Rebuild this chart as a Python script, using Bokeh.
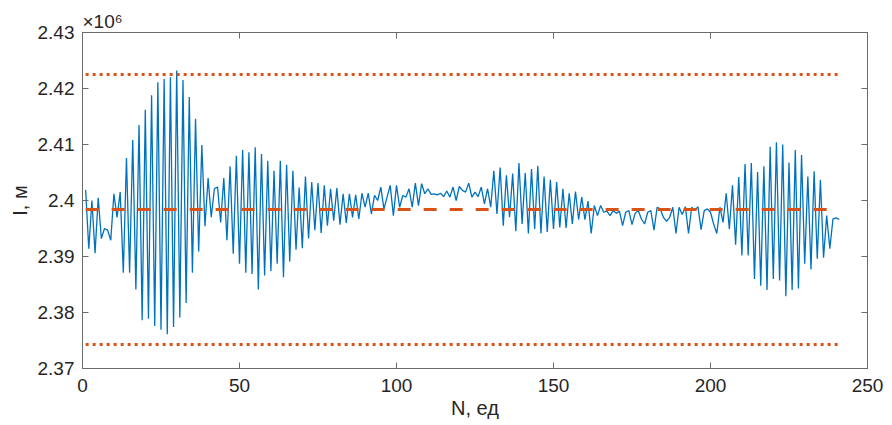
from bokeh.plotting import figure
from bokeh.models import (FixedTicker, CustomJSTickFormatter, LinearAxis,
                          Range1d, ColumnDataSource)
from bokeh.embed import file_html
from bokeh.resources import INLINE

# Series values (I, in units of 1e6 m), N = 1..241
I_VALUES = [
    2.4019, 2.3914, 2.4000, 2.3906, 2.4005, 2.3932, 2.3950, 2.3947, 2.3929, 2.4012,
    2.3970, 2.4015, 2.3871, 2.4076, 2.3871, 2.4108, 2.3841, 2.4135, 2.3786, 2.4162,
    2.3789, 2.4188, 2.3776, 2.4211, 2.3769, 2.4217, 2.3761, 2.4220, 2.3774, 2.4232,
    2.3791, 2.4215, 2.3817, 2.4185, 2.3871, 2.4146, 2.3909, 2.4099, 2.3954, 2.4040,
    2.3970, 2.4021, 2.4024, 2.3961, 2.4040, 2.3929, 2.4061, 2.3905, 2.4080, 2.3887,
    2.4090, 2.3871, 2.4086, 2.3869, 2.4095, 2.3841, 2.4083, 2.3866, 2.4071, 2.3874,
    2.4053, 2.3887, 2.4071, 2.3863, 2.4064, 2.3891, 2.4053, 2.3912, 2.4023, 2.3915,
    2.4043, 2.3932, 2.4033, 2.3947, 2.4031, 2.3942, 2.4027, 2.3955, 2.4021, 2.3964,
    2.4022, 2.3957, 2.4012, 2.3960, 2.4012, 2.3970, 2.4010, 2.3967, 2.4013, 2.3988,
    2.4013, 2.3976, 2.4009, 2.4000, 2.4024, 2.3985, 2.4006, 2.4027, 2.3973, 2.4027,
    2.3988, 2.4009, 2.4006, 2.4021, 2.3988, 2.4031, 2.3991, 2.4030, 2.4012, 2.4021,
    2.4011, 2.4012, 2.4010, 2.4013, 2.4007, 2.4017, 2.4006, 2.4024, 2.4000, 2.4025,
    2.4018, 2.4015, 2.4031, 2.4006, 2.4015, 2.4007, 2.4024, 2.3994, 2.4021, 2.3988,
    2.4053, 2.3976, 2.4059, 2.3955, 2.4045, 2.3970, 2.4048, 2.3945, 2.4067, 2.3958,
    2.4049, 2.3941, 2.4056, 2.3949, 2.4062, 2.3941, 2.4043, 2.3944, 2.4037, 2.3949,
    2.4033, 2.3952, 2.4021, 2.3951, 2.4013, 2.3958, 2.4016, 2.3966, 2.4006, 2.3966,
    2.3999, 2.3941, 2.3991, 2.3973, 2.3991, 2.3979, 2.3981, 2.3973, 2.3982, 2.3977,
    2.3981, 2.3955, 2.3979, 2.3982, 2.3957, 2.3977, 2.3982, 2.3967, 2.3958, 2.3979,
    2.3982, 2.3947, 2.3988, 2.3985, 2.3970, 2.3963, 2.3970, 2.3988, 2.3941, 2.3988,
    2.3975, 2.3989, 2.3941, 2.3988, 2.3982, 2.3989, 2.3948, 2.3982, 2.3985, 2.3979,
    2.3958, 2.3941, 2.3988, 2.3961, 2.4013, 2.3949, 2.4027, 2.3921, 2.4042, 2.3902,
    2.4065, 2.3902, 2.4067, 2.3860, 2.4051, 2.3848, 2.4061, 2.3840, 2.4096, 2.3860,
    2.4104, 2.3857, 2.4100, 2.3829, 2.4068, 2.3840, 2.4090, 2.3843, 2.4081, 2.3887,
    2.4043, 2.3877, 2.4052, 2.3896, 2.4037, 2.3898, 2.3973, 2.3914, 2.3967, 2.3969,
    2.3966,
]
N_VALUES = list(range(1, len(I_VALUES) + 1))

MEAN_LEVEL = 2.3984
UPPER_LEVEL = 2.4225
LOWER_LEVEL = 2.3743

X_TICKS = [0, 50, 100, 150, 200, 250]
Y_TICKS = [2.37, 2.38, 2.39, 2.40, 2.41, 2.42, 2.43]
X_LABEL = "N, ед"
Y_LABEL = "I, м"
SCALE_TEXT = "×10⁶"

BLUE = "#0072BD"
ORANGE = "#D95319"
AXIS_COLOR = "#6b6b6b"
TEXT_COLOR = "#262626"
FONT = "Liberation Sans"

p = figure(width=892, height=425,
           x_range=Range1d(X_TICKS[0], X_TICKS[-1]),
           y_range=Range1d(Y_TICKS[0], Y_TICKS[-1]),
           output_backend="svg", toolbar_location=None,
           min_border_left=82, min_border_right=25,
           min_border_top=32, min_border_bottom=57,
           background_fill_color="white", border_fill_color="white")
p.xgrid.visible = False
p.ygrid.visible = False
p.outline_line_color = AXIS_COLOR
p.outline_line_width = 1

# "x10^6" exponent note at the top-left corner of the axes
p.title.text = SCALE_TEXT
p.title.align = "left"
p.title.text_font = FONT
p.title.text_font_size = "19px"
p.title.text_font_style = "normal"
p.title.text_color = TEXT_COLOR
p.title.standoff = 1
p.title.offset = 0

src = ColumnDataSource(dict(n=N_VALUES, i=I_VALUES))
p.line("n", "i", source=src, line_color=BLUE, line_width=1.3)

ends = [N_VALUES[0], N_VALUES[-1]]
p.line(ends, [MEAN_LEVEL, MEAN_LEVEL], line_color=ORANGE, line_width=3,
       line_dash="13 13", line_cap="butt")
p.line(ends, [UPPER_LEVEL, UPPER_LEVEL], line_color=ORANGE, line_width=3,
       line_dash="3 4", line_cap="butt")
p.line(ends, [LOWER_LEVEL, LOWER_LEVEL], line_color=ORANGE, line_width=3,
       line_dash="3 4", line_cap="butt")

fmt = CustomJSTickFormatter(code="return String(Math.round(tick*100)/100);")

def style_axis(ax, show_labels=True):
    ax.axis_line_color = AXIS_COLOR
    ax.major_tick_line_color = AXIS_COLOR
    ax.minor_tick_line_color = None
    ax.major_tick_in = 6
    ax.major_tick_out = 0
    ax.major_label_text_font = FONT
    ax.axis_label_text_font = FONT
    ax.axis_label_text_color = TEXT_COLOR
    ax.axis_label_text_font_style = "normal"
    if show_labels:
        ax.major_label_text_font_size = "19px"
        ax.major_label_text_color = TEXT_COLOR
    else:
        ax.major_label_text_font_size = "1px"
        ax.major_label_text_color = None
        ax.major_label_standoff = 0

xa = p.xaxis[0]
ya = p.yaxis[0]
xa.ticker = FixedTicker(ticks=X_TICKS)
ya.ticker = FixedTicker(ticks=Y_TICKS)
ya.formatter = fmt
style_axis(xa)
style_axis(ya)
xa.major_label_standoff = 10
ya.major_label_standoff = 8
xa.axis_label = X_LABEL
ya.axis_label = Y_LABEL
xa.axis_label_text_font_size = "20px"
ya.axis_label_text_font_size = "20px"
xa.axis_label_standoff = 2
ya.axis_label_standoff = 4

top = LinearAxis(ticker=FixedTicker(ticks=X_TICKS))
right = LinearAxis(ticker=FixedTicker(ticks=Y_TICKS))
style_axis(top, show_labels=False)
style_axis(right, show_labels=False)
p.add_layout(top, "above")
p.add_layout(right, "right")

open("out.html", "w").write(file_html(p, INLINE))
